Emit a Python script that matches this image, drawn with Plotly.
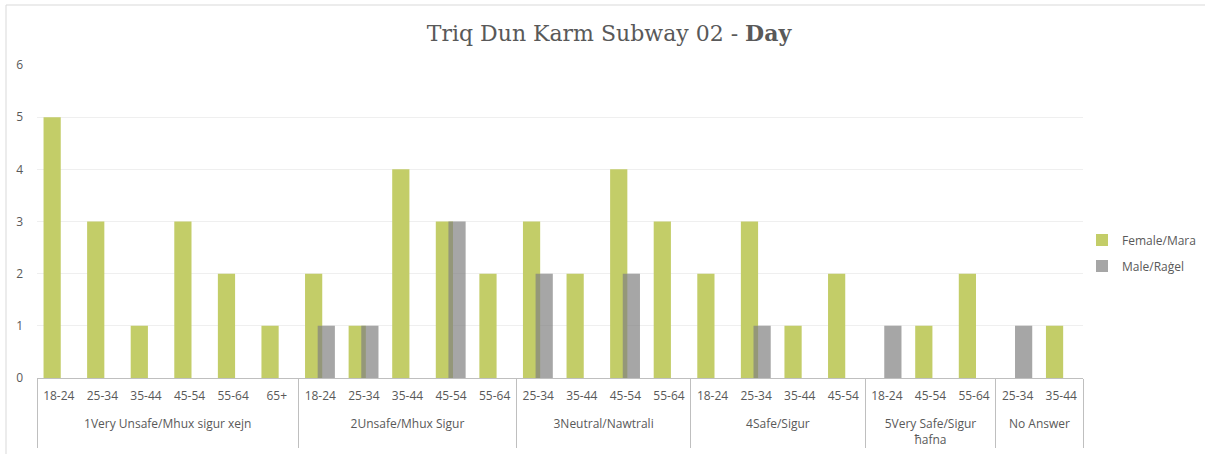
import plotly.graph_objects as go

# Safety rating groups and the age bands answered within each
# (leading <br> drops the group row one line below the age labels)
groups = [
    "<br>1Very Unsafe/Mhux sigur xejn",
    "<br>2Unsafe/Mhux Sigur",
    "<br>3Neutral/Nawtrali",
    "<br>4Safe/Sigur",
    "<br>5Very Safe/Sigur<br>ħafna",
    "<br>No Answer",
]
ages = [
    ["18-24", "25-34", "35-44", "45-54", "55-64", "65+"],
    ["18-24", "25-34", "35-44", "45-54", "55-64"],
    ["25-34", "35-44", "45-54", "55-64"],
    ["18-24", "25-34", "35-44", "45-54"],
    ["18-24", "45-54", "55-64"],
    ["25-34", "35-44"],
]

female = [
    [5, 3, 1, 3, 2, 1],
    [2, 1, 4, 3, 2],
    [3, 2, 4, 3],
    [2, 3, 1, 2],
    [None, 1, 2],
    [None, 1],
]
male = [
    [None, None, None, None, None, None],
    [1, 1, None, 3, None],
    [2, None, 2, None],
    [None, 1, None, None],
    [1, None, None],
    [1, None],
]

x_group = [g for g, a in zip(groups, ages) for _ in a]
x_age = [v for a in ages for v in a]
y_female = [v for row in female for v in row]
y_male = [v for row in male for v in row]

TXT = "#595959"
FONT = "Open Sans"

fig = go.Figure()
fig.add_trace(go.Bar(
    name="Female/Mara", x=[x_group, x_age], y=y_female,
    marker=dict(color="#C3CD68", line=dict(width=0)),
    width=0.395, offset=-0.35, legendgroup="f",
))
fig.add_trace(go.Bar(
    name="Male/Raġel", x=[x_group, x_age], y=y_male,
    marker=dict(color="rgba(128,128,128,0.7)", line=dict(width=0)),
    width=0.395, offset=-0.06, legendgroup="m",
))

L, R, T, B = 37, 122, 65, 76
W, H = 1205, 454
pw, ph = W - L - R, H - T - B

def px_x(px):
    return (px - L) / pw

def px_y(py):
    return (H - B - py) / ph

fig.update_layout(
    width=W, height=H,
    margin=dict(l=L, r=R, t=T, b=B, autoexpand=False),
    paper_bgcolor="white", plot_bgcolor="white",
    barmode="overlay",
    font=dict(family=FONT, size=12, color=TXT),
    title=dict(
        text="Triq Dun Karm Subway 02 - <b>Day</b>",
        x=609 / W, xref="container", xanchor="center",
        y=1 - 33 / H, yref="container", yanchor="middle",
        font=dict(family="DejaVu Serif", size=22, color=TXT),
    ),
    xaxis=dict(
        type="multicategory",
        showline=True, linecolor="#BFBFBF", linewidth=1,
        showgrid=False, ticks="",
        showdividers=True, dividercolor="#BFBFBF", dividerwidth=1,
        tickfont=dict(family=FONT, size=12, color=TXT),
        ticklabelstandoff=7,
    ),
    yaxis=dict(
        range=[0, 6], dtick=1,
        showgrid=True, gridcolor="#EFEFEF", gridwidth=1,
        zeroline=False, showline=False, ticks="",
        tickfont=dict(family=FONT, size=12, color=TXT),
        ticklabelstandoff=13,
    ),
    legend=dict(
        x=px_x(1082), y=px_y(253), yanchor="middle",
        xanchor="left", bgcolor="rgba(0,0,0,0)",
        font=dict(family=FONT, size=12, color=TXT),
        tracegroupgap=7, itemwidth=30,
    ),
    showlegend=True,
    shapes=[
        dict(type="line", xref="paper", yref="paper",
             x0=px_x(6), x1=px_x(W), y0=px_y(5), y1=px_y(5),
             line=dict(color="#D9D9D9", width=1)),
        dict(type="line", xref="paper", yref="paper",
             x0=px_x(6), x1=px_x(6), y0=px_y(5), y1=px_y(H),
             line=dict(color="#D9D9D9", width=1)),
    ],
)

fig.write_html("out.html")
